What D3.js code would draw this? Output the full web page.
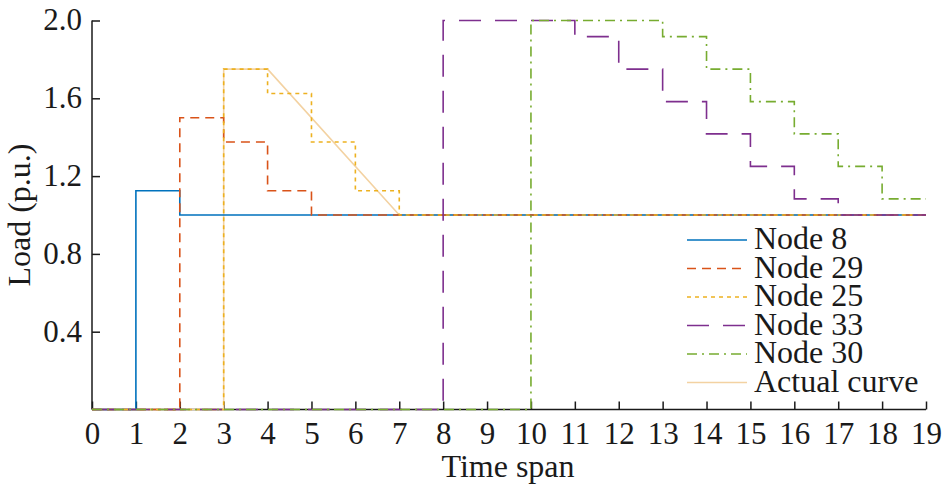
<!DOCTYPE html>
<html>
<head>
<meta charset="utf-8">
<script src="https://cdn.jsdelivr.net/npm/d3@7"></script>
<style>
  html, body { margin: 0; padding: 0; background: #fff; }
  svg { display: block; }
  text { font-family: "Liberation Serif", "Times New Roman", serif; fill: #1a1a1a; }
</style>
</head>
<body>
<svg id="chart" width="943" height="489"></svg>
<script>
// ---- data ----
const xTicks = [0,1,2,3,4,5,6,7,8,9,10,11,12,13,14,15,16,17,18,19];
const yTicks = [0.4, 0.8, 1.2, 1.6, 2.0];
const seriesNames = ["Node 8", "Node 29", "Node 25", "Node 33", "Node 30", "Actual curve"];

const node8Times  = [0, 1, 2, 19];
const node8Values = [0, 1.125, 1.0, 1.0];

const node29Times  = [0, 2, 3, 4, 5, 19];
const node29Values = [0, 1.5, 1.375, 1.125, 1.0, 1.0];

const node25Times  = [0, 3, 4, 5, 6, 7, 19];
const node25Values = [0, 1.75, 1.625, 1.375, 1.125, 1.0, 1.0];

const node33Times  = [0, 8, 11, 12, 13, 14, 15, 16, 17, 19];
const node33Values = [0, 2.0, 1.917, 1.75, 1.583, 1.417, 1.25, 1.083, 1.0, 1.0];

const node30Times  = [0, 10, 13, 14, 15, 16, 17, 18, 19];
const node30Values = [0, 2.0, 1.917, 1.75, 1.583, 1.417, 1.25, 1.083, 1.083];

const actualTimes  = [0, 3, 3, 4, 7, 19];
const actualValues = [0, 0, 1.75, 1.75, 1.0, 1.0];

// ---- styles ----
const styles = [
  { color: "#0072BD", dash: null,          step: true },
  { color: "#D95319", dash: "9,6",         step: true },
  { color: "#EDB120", dash: "4,4",         step: true },
  { color: "#7E2F8E", dash: "22,14",       step: true },
  { color: "#77AC30", dash: "10,5,2,5",    step: true },
  { color: "#F3D2A2", dash: null,          step: false }
];

const seriesData = [
  [node8Times, node8Values],
  [node29Times, node29Values],
  [node25Times, node25Values],
  [node33Times, node33Values],
  [node30Times, node30Values],
  [actualTimes, actualValues]
];
// actual curve lies underneath the node curves
const drawOrder = [5, 0, 1, 2, 3, 4];

const svg = d3.select("#chart");
const mLeft = 92, mRight = 926, mTop = 20.5, mBottom = 409.5;

const x = d3.scaleLinear().domain([0, 19]).range([mLeft, mRight]);
const y = d3.scaleLinear().domain([0, 2]).range([mBottom, mTop]);

// axes
const xAxis = d3.axisBottom(x).tickValues(xTicks).tickSizeInner(-8).tickSizeOuter(0).tickPadding(14).tickFormat(d3.format("d"));
const yAxis = d3.axisLeft(y).tickValues(yTicks).tickSizeInner(-8).tickSizeOuter(0).tickPadding(10).tickFormat(d3.format(".1f"));

const gx = svg.append("g").attr("transform", `translate(0,${mBottom})`).call(xAxis);
const gy = svg.append("g").attr("transform", `translate(${mLeft},0)`).call(yAxis);

[gx, gy].forEach(g => {
  g.select(".domain").attr("stroke", "#1a1a1a").attr("stroke-width", 1.5);
  g.selectAll(".tick line").attr("stroke", "#1a1a1a").attr("stroke-width", 1.5);
  g.selectAll(".tick text").attr("font-size", 31).attr("font-family", "Liberation Serif, Times New Roman, serif").attr("fill", "#1a1a1a");
});
gy.select(".domain").attr("d", `M0,${mBottom}V${mTop}`);
gx.select(".domain").attr("d", `M${mLeft},0H${mRight}`);
gx.selectAll(".tick text").attr("dy", "0.71em").attr("y", 12);
gy.selectAll(".tick text").attr("dy", "0.3em");

// lines
drawOrder.forEach(i => {
  const [ts, vs] = seriesData[i];
  const pts = ts.map((t, k) => [t, vs[k]]);
  const line = d3.line()
    .x(d => x(d[0]))
    .y(d => y(d[1]))
    .curve(styles[i].step ? d3.curveStepAfter : d3.curveLinear);
  svg.append("path")
    .datum(pts)
    .attr("d", line)
    .attr("fill", "none")
    .attr("stroke", styles[i].color)
    .attr("stroke-width", 1.6)
    .attr("stroke-dasharray", styles[i].dash);
});

// axis titles
svg.append("text")
  .attr("x", 508).attr("y", 477)
  .attr("text-anchor", "middle")
  .attr("font-size", 32)
  .text("Time span");

svg.append("text")
  .attr("transform", `translate(30,${(mTop + mBottom) / 2}) rotate(-90)`)
  .attr("text-anchor", "middle")
  .attr("font-size", 32)
  .text("Load (p.u.)");

// legend
const legend = svg.append("g");
const legY0 = 240, legDy = 28.5;
seriesNames.forEach((name, i) => {
  const yy = legY0 + i * legDy;
  legend.append("line")
    .attr("x1", 687).attr("x2", 747)
    .attr("y1", yy).attr("y2", yy)
    .attr("stroke", styles[i].color)
    .attr("stroke-width", 1.6)
    .attr("stroke-dasharray", styles[i].dash);
  legend.append("text")
    .attr("x", 754).attr("y", yy + 9)
    .attr("font-size", 32)
    .text(name);
});
</script>
</body>
</html>
